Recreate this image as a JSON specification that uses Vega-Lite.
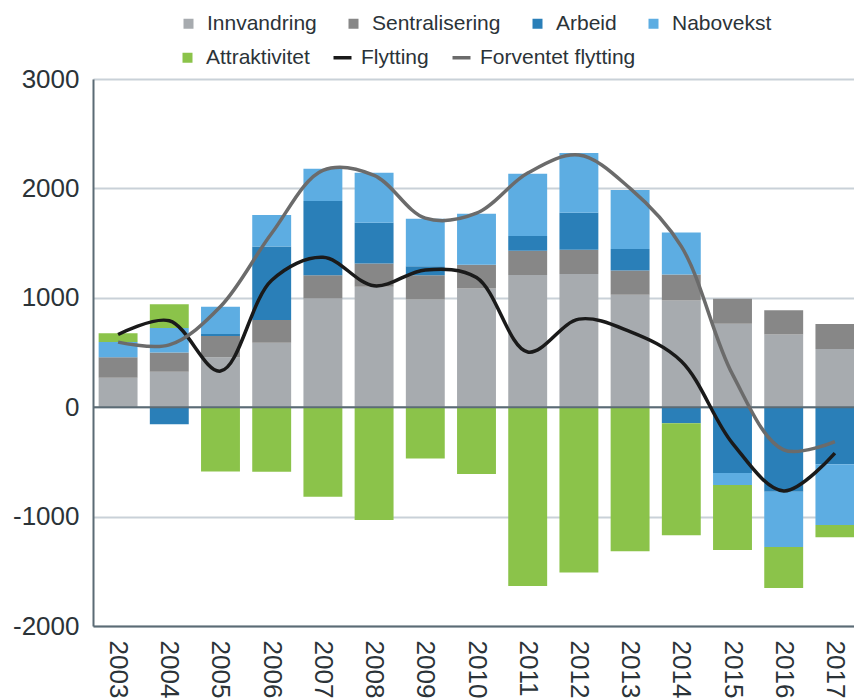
{
  "$schema": "https://vega.github.io/schema/vega-lite/v6.json",
  "autosize": {"type": "none"},
  "width": 767,
  "height": 547,
  "padding": {"left": 93, "top": 79, "right": -6, "bottom": 73},
  "background": "white",
  "config": {"view": {"stroke": null}, "font": "Liberation Sans"},
  "datasets": {
    "bars": [
      {"year": "2003", "serie": "Innvandring", "value": 270, "ord": 1},
      {"year": "2003", "serie": "Sentralisering", "value": 187, "ord": 2},
      {"year": "2003", "serie": "Nabovekst", "value": 140, "ord": 4},
      {"year": "2003", "serie": "Attraktivitet", "value": 78, "ord": 5},
      {"year": "2004", "serie": "Innvandring", "value": 324, "ord": 1},
      {"year": "2004", "serie": "Sentralisering", "value": 176, "ord": 2},
      {"year": "2004", "serie": "Arbeid", "value": -155, "ord": 3},
      {"year": "2004", "serie": "Nabovekst", "value": 224, "ord": 4},
      {"year": "2004", "serie": "Attraktivitet", "value": 218, "ord": 5},
      {"year": "2005", "serie": "Innvandring", "value": 457, "ord": 1},
      {"year": "2005", "serie": "Sentralisering", "value": 194, "ord": 2},
      {"year": "2005", "serie": "Arbeid", "value": 18, "ord": 3},
      {"year": "2005", "serie": "Nabovekst", "value": 249, "ord": 4},
      {"year": "2005", "serie": "Attraktivitet", "value": -588, "ord": 5},
      {"year": "2006", "serie": "Innvandring", "value": 590, "ord": 1},
      {"year": "2006", "serie": "Sentralisering", "value": 207, "ord": 2},
      {"year": "2006", "serie": "Arbeid", "value": 673, "ord": 3},
      {"year": "2006", "serie": "Nabovekst", "value": 286, "ord": 4},
      {"year": "2006", "serie": "Attraktivitet", "value": -590, "ord": 5},
      {"year": "2007", "serie": "Innvandring", "value": 993, "ord": 1},
      {"year": "2007", "serie": "Sentralisering", "value": 214, "ord": 2},
      {"year": "2007", "serie": "Arbeid", "value": 677, "ord": 3},
      {"year": "2007", "serie": "Nabovekst", "value": 295, "ord": 4},
      {"year": "2007", "serie": "Attraktivitet", "value": -818, "ord": 5},
      {"year": "2008", "serie": "Innvandring", "value": 1100, "ord": 1},
      {"year": "2008", "serie": "Sentralisering", "value": 213, "ord": 2},
      {"year": "2008", "serie": "Arbeid", "value": 374, "ord": 3},
      {"year": "2008", "serie": "Nabovekst", "value": 455, "ord": 4},
      {"year": "2008", "serie": "Attraktivitet", "value": -1031, "ord": 5},
      {"year": "2009", "serie": "Innvandring", "value": 984, "ord": 1},
      {"year": "2009", "serie": "Sentralisering", "value": 223, "ord": 2},
      {"year": "2009", "serie": "Arbeid", "value": 82, "ord": 3},
      {"year": "2009", "serie": "Nabovekst", "value": 433, "ord": 4},
      {"year": "2009", "serie": "Attraktivitet", "value": -470, "ord": 5},
      {"year": "2010", "serie": "Innvandring", "value": 1085, "ord": 1},
      {"year": "2010", "serie": "Sentralisering", "value": 217, "ord": 2},
      {"year": "2010", "serie": "Nabovekst", "value": 466, "ord": 4},
      {"year": "2010", "serie": "Attraktivitet", "value": -610, "ord": 5},
      {"year": "2011", "serie": "Innvandring", "value": 1208, "ord": 1},
      {"year": "2011", "serie": "Sentralisering", "value": 222, "ord": 2},
      {"year": "2011", "serie": "Arbeid", "value": 135, "ord": 3},
      {"year": "2011", "serie": "Nabovekst", "value": 569, "ord": 4},
      {"year": "2011", "serie": "Attraktivitet", "value": -1635, "ord": 5},
      {"year": "2012", "serie": "Innvandring", "value": 1217, "ord": 1},
      {"year": "2012", "serie": "Sentralisering", "value": 222, "ord": 2},
      {"year": "2012", "serie": "Arbeid", "value": 338, "ord": 3},
      {"year": "2012", "serie": "Nabovekst", "value": 547, "ord": 4},
      {"year": "2012", "serie": "Attraktivitet", "value": -1512, "ord": 5},
      {"year": "2013", "serie": "Innvandring", "value": 1027, "ord": 1},
      {"year": "2013", "serie": "Sentralisering", "value": 222, "ord": 2},
      {"year": "2013", "serie": "Arbeid", "value": 198, "ord": 3},
      {"year": "2013", "serie": "Nabovekst", "value": 539, "ord": 4},
      {"year": "2013", "serie": "Attraktivitet", "value": -1317, "ord": 5},
      {"year": "2014", "serie": "Innvandring", "value": 975, "ord": 1},
      {"year": "2014", "serie": "Sentralisering", "value": 238, "ord": 2},
      {"year": "2014", "serie": "Arbeid", "value": -147, "ord": 3},
      {"year": "2014", "serie": "Nabovekst", "value": 384, "ord": 4},
      {"year": "2014", "serie": "Attraktivitet", "value": -1024, "ord": 5},
      {"year": "2015", "serie": "Innvandring", "value": 762, "ord": 1},
      {"year": "2015", "serie": "Sentralisering", "value": 229, "ord": 2},
      {"year": "2015", "serie": "Arbeid", "value": -601, "ord": 3},
      {"year": "2015", "serie": "Nabovekst", "value": -110, "ord": 4},
      {"year": "2015", "serie": "Attraktivitet", "value": -594, "ord": 5},
      {"year": "2016", "serie": "Innvandring", "value": 664, "ord": 1},
      {"year": "2016", "serie": "Sentralisering", "value": 223, "ord": 2},
      {"year": "2016", "serie": "Arbeid", "value": -772, "ord": 3},
      {"year": "2016", "serie": "Nabovekst", "value": -506, "ord": 4},
      {"year": "2016", "serie": "Attraktivitet", "value": -375, "ord": 5},
      {"year": "2017", "serie": "Innvandring", "value": 533, "ord": 1},
      {"year": "2017", "serie": "Sentralisering", "value": 228, "ord": 2},
      {"year": "2017", "serie": "Arbeid", "value": -521, "ord": 3},
      {"year": "2017", "serie": "Nabovekst", "value": -555, "ord": 4},
      {"year": "2017", "serie": "Attraktivitet", "value": -113, "ord": 5}
    ],
    "lines": [
      {"year": "2003", "serie": "Flytting", "value": 664},
      {"year": "2004", "serie": "Flytting", "value": 790},
      {"year": "2005", "serie": "Flytting", "value": 330},
      {"year": "2006", "serie": "Flytting", "value": 1160},
      {"year": "2007", "serie": "Flytting", "value": 1370},
      {"year": "2008", "serie": "Flytting", "value": 1110},
      {"year": "2009", "serie": "Flytting", "value": 1255},
      {"year": "2010", "serie": "Flytting", "value": 1185},
      {"year": "2011", "serie": "Flytting", "value": 505},
      {"year": "2012", "serie": "Flytting", "value": 805},
      {"year": "2013", "serie": "Flytting", "value": 690},
      {"year": "2014", "serie": "Flytting", "value": 420},
      {"year": "2015", "serie": "Flytting", "value": -330},
      {"year": "2016", "serie": "Flytting", "value": -765},
      {"year": "2017", "serie": "Flytting", "value": -420},
      {"year": "2003", "serie": "Forventet flytting", "value": 595},
      {"year": "2004", "serie": "Forventet flytting", "value": 570},
      {"year": "2005", "serie": "Forventet flytting", "value": 920},
      {"year": "2006", "serie": "Forventet flytting", "value": 1590},
      {"year": "2007", "serie": "Forventet flytting", "value": 2165},
      {"year": "2008", "serie": "Forventet flytting", "value": 2120},
      {"year": "2009", "serie": "Forventet flytting", "value": 1728},
      {"year": "2010", "serie": "Forventet flytting", "value": 1773},
      {"year": "2011", "serie": "Forventet flytting", "value": 2140},
      {"year": "2012", "serie": "Forventet flytting", "value": 2305},
      {"year": "2013", "serie": "Forventet flytting", "value": 2000},
      {"year": "2014", "serie": "Forventet flytting", "value": 1470},
      {"year": "2015", "serie": "Forventet flytting", "value": 300},
      {"year": "2016", "serie": "Forventet flytting", "value": -390},
      {"year": "2017", "serie": "Forventet flytting", "value": -314}
    ]
  },
  "layer": [
    {
      "data": {"name": "bars"},
      "mark": {"type": "bar"},
      "encoding": {
        "x": {
          "field": "year",
          "type": "ordinal",
          "scale": {"paddingInner": 0.24, "paddingOuter": 0.11},
          "axis": {
            "title": null,
            "labelAngle": 90,
            "labelFontSize": 26,
            "labelFont": "Liberation Sans",
            "labelColor": "#2b3338",
            "labelPadding": 14,
            "ticks": false,
            "domainColor": "#5b6b75",
            "domainWidth": 2,
            "grid": false
          }
        },
        "y": {
          "field": "value",
          "type": "quantitative",
          "stack": "zero",
          "scale": {"domain": [-2000, 3000], "nice": false},
          "axis": {
            "title": null,
            "values": [-2000, -1000, 0, 1000, 2000, 3000],
            "labelExpr": "'' + datum.value",
            "labelFontSize": 26,
            "labelFont": "Liberation Sans",
            "labelColor": "#2b3338",
            "labelPadding": 14,
            "ticks": false,
            "domainColor": "#5b6b75",
            "domainWidth": 2,
            "grid": true,
            "gridColor": "#c9d1d8",
            "gridWidth": 2
          }
        },
        "fill": {
          "field": "serie",
          "type": "nominal",
          "scale": {
            "domain": ["Innvandring", "Sentralisering", "Arbeid", "Nabovekst", "Attraktivitet"],
            "range": ["#a7abaf", "#878787", "#2a7fb8", "#5dade2", "#8bc34a"]
          },
          "legend": {
            "title": null,
            "values": ["Innvandring", "Sentralisering", "Arbeid", "Nabovekst"],
            "orient": "none",
            "legendX": 85,
            "legendY": -66,
            "direction": "horizontal",
            "columnPadding": 26,
            "padding": 0,
            "labelFontSize": 21,
            "labelFont": "Liberation Sans",
            "labelColor": "#2b3338",
            "labelOffset": 8,
            "symbolSize": 100,
            "symbolType": "square",
            "symbolStrokeWidth": 0,
            "symbolOpacity": 1
          }
        },
        "order": {"field": "ord", "type": "quantitative"}
      }
    },
    {
      "data": {"values": [{}]},
      "mark": {"type": "rule", "color": "#5b6b75", "strokeWidth": 2},
      "encoding": {"y": {"datum": 0}}
    },
    {
      "data": {"name": "lines"},
      "mark": {"type": "line", "interpolate": "catmull-rom", "strokeWidth": 3.5},
      "encoding": {
        "x": {"field": "year", "type": "ordinal"},
        "y": {"field": "value", "type": "quantitative"},
        "stroke": {
          "field": "serie",
          "type": "nominal",
          "scale": {
            "domain": ["Attraktivitet", "Flytting", "Forventet flytting"],
            "range": ["#8bc34a", "#1a1a1a", "#6b6b6b"]
          },
          "legend": {
            "title": null,
            "orient": "none",
            "legendX": 84,
            "legendY": -32,
            "direction": "horizontal",
            "columnPadding": 16,
            "padding": 0,
            "labelFontSize": 21,
            "labelFont": "Liberation Sans",
            "labelColor": "#2b3338",
            "labelOffset": 8,
            "symbolSize": 100,
            "encode": {
              "symbols": {
                "update": {
                  "shape": {"signal": "datum.value == 'Attraktivitet' ? 'square' : 'stroke'"},
                  "size": {"signal": "datum.value == 'Attraktivitet' ? 100 : 324"},
                  "fill": {"signal": "datum.value == 'Attraktivitet' ? '#8bc34a' : 'transparent'"},
                  "stroke": {"signal": "scale('stroke', datum.value)"},
                  "strokeWidth": {"signal": "datum.value == 'Attraktivitet' ? 0 : 3.5"},
                  "opacity": {"value": 1}
                }
              }
            }
          }
        }
      }
    }
  ]
}
